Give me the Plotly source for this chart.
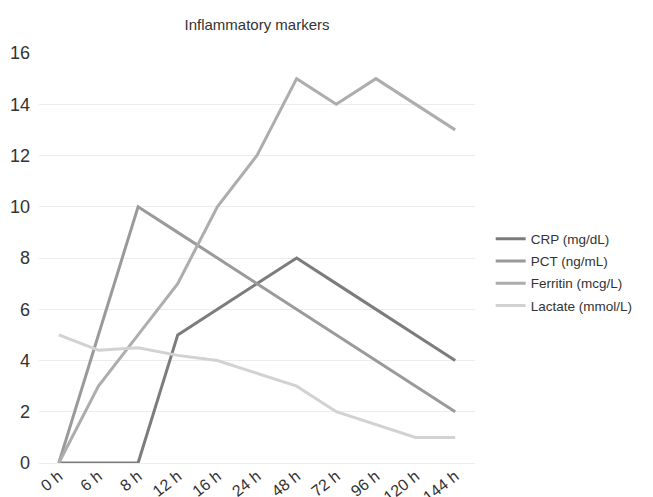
import plotly.graph_objects as go

categories = ["0 h", "6 h", "8 h", "12 h", "16 h", "24 h", "48 h", "72 h", "96 h", "120 h", "144 h"]
crp = [0, 0, 0, 5, 6, 7, 8, 7, 6, 5, 4]
pct = [0, 5, 10, 9, 8, 7, 6, 5, 4, 3, 2]
ferritin = [0, 3, 5, 7, 10, 12, 15, 14, 15, 14, 13]
lactate = [5, 4.4, 4.5, 4.2, 4, 3.5, 3, 2, 1.5, 1, 1]

series_names = ["CRP (mg/dL)", "PCT (ng/mL)", "Ferritin (mcg/L)", "Lactate (mmol/L)"]
series_values = [crp, pct, ferritin, lactate]
series_colors = ["#7c7c7c", "#9a9a9a", "#adadad", "#d2d2d2"]

fig = go.Figure()
for i, (name, vals, col) in enumerate(zip(series_names, series_values, series_colors)):
    fig.add_trace(go.Scatter(x=categories, y=vals, mode="lines", name=name,
                             legendgroup=f"g{i}",
                             line=dict(color=col, width=3)))

FONT = "Liberation Sans, Arial, sans-serif"
fig.update_layout(
    width=653, height=497,
    margin=dict(l=39, r=178, t=53, b=34),
    plot_bgcolor="white", paper_bgcolor="white",
    title=dict(text="Inflammatory markers", x=(39 + 475) / 2 / 653, xanchor="center",
               y=1 - 25 / 497, yanchor="middle",
               font=dict(family=FONT, size=15, color="#333333")),
    font=dict(family=FONT, color="#333333"),
    legend=dict(x=1.036, xanchor="left", y=0.465, yanchor="middle",
                font=dict(family=FONT, size=13.5, color="#333333"),
                itemwidth=30, tracegroupgap=1.7),
    showlegend=True,
)
fig.update_xaxes(type="category", range=[-0.5, 10.5], showgrid=False, showline=False,
                 ticks="", tickangle=-38, automargin=False, ticklabelstandoff=0,
                 tickfont=dict(family=FONT, size=16, color="#333333"))
fig.update_yaxes(range=[0, 16], dtick=2, showgrid=True, gridcolor="#ececec", gridwidth=1,
                 zeroline=True, zerolinecolor="#ececec", zerolinewidth=1,
                 showline=False, ticks="", automargin=False, ticklabelstandoff=8,
                 tickfont=dict(family=FONT, size=18, color="#333333"))

fig.write_html("out.html", config={"displayModeBar": False})
with open("out.html", "r", encoding="utf-8") as f:
    html = f.read()
html = html.replace("<body>", '<body style="margin:0;padding:0;overflow:hidden">', 1)
with open("out.html", "w", encoding="utf-8") as f:
    f.write(html)
